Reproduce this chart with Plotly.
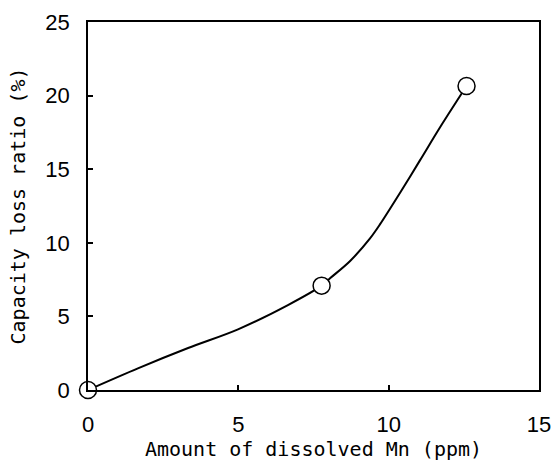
import plotly.graph_objects as go

# Measured data points (markers)
mn_points = [0.0, 7.77, 12.59]
loss_points = [0.0, 7.09, 20.65]

# Smooth curve
mn_curve = [0.0, 1.66, 3.33, 4.99, 6.65, 7.77, 8.05, 8.71, 9.38, 9.71, 10.38, 11.04, 11.71, 12.59]
loss_curve = [0.0, 1.47, 2.85, 4.12, 5.77, 7.09, 7.59, 8.75, 10.3, 11.25, 13.4, 15.6, 17.85, 20.65]

x_ticks = [0, 5, 10, 15]
y_ticks = [0, 5, 10, 15, 20, 25]

fig = go.Figure()
fig.add_trace(go.Scatter(
    x=mn_curve, y=loss_curve, mode="lines",
    line=dict(color="black", width=2, shape="spline", smoothing=0.9),
    showlegend=False, hoverinfo="skip",
))
fig.add_trace(go.Scatter(
    x=mn_points, y=loss_points, mode="markers",
    marker=dict(symbol="circle", size=17, color="white",
                line=dict(color="black", width=1.5)),
    showlegend=False, cliponaxis=False,
))

axis_common = dict(
    showline=True, linecolor="black", linewidth=1.5, mirror=True,
    ticks="inside", ticklen=5, tickwidth=1.5, tickcolor="black",
    showgrid=False, zeroline=False, automargin=False,
    tickfont=dict(family="Liberation Sans", size=22, color="black"),
)

fig.update_xaxes(
    range=[0, 15], tickvals=x_ticks, ticklabelstandoff=14,
    title=dict(text="Amount of dissolved Mn (ppm)", standoff=3,
               font=dict(family="DejaVu Sans Mono", size=20, color="black")),
    **axis_common,
)
fig.update_yaxes(
    range=[0, 25], tickvals=y_ticks, ticklabelstandoff=12,
    title=dict(text="Capacity loss ratio (%)", standoff=14,
               font=dict(family="DejaVu Sans Mono", size=20, color="black")),
    **axis_common,
)

fig.update_layout(
    width=552, height=463,
    margin=dict(l=88, r=13, t=22, b=73),
    paper_bgcolor="white", plot_bgcolor="white",
)

fig.write_html("out.html")
